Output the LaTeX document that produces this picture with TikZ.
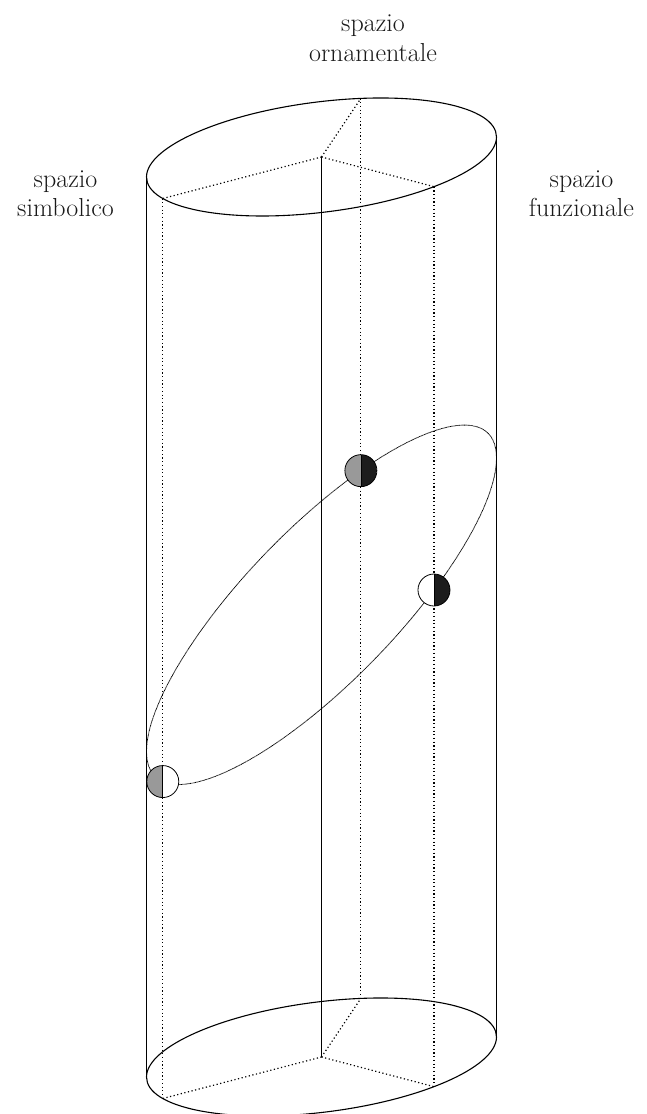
\documentclass[tikz,border=0pt]{standalone}
\begin{document}
\begin{tikzpicture}[x=1pt,y=1pt,
  rim/.style={line width=1.1pt},
  hid/.style={line width=1.2pt, dash pattern=on 1.2pt off 2.5pt},
  cut/.style={line width=0.8pt, dash pattern=on 0.8pt off 0.5pt},
  lab/.style={font=\fontsize{26}{29}\selectfont, anchor=base, inner sep=0pt, text=black!90},
  ball/.style 2 args={circle, draw, line width=0.8pt, minimum size=32pt, inner sep=0pt,
    path picture={
      \fill[#1] (path picture bounding box.north west) rectangle (path picture bounding box.south);
      \fill[#2] (path picture bounding box.north) rectangle (path picture bounding box.south east);
      \draw[line width=0.7pt] (path picture bounding box.north) -- (path picture bounding box.south);
    }}]
\definecolor{ballgray}{HTML}{999999}
\definecolor{balldark}{HTML}{1C1C1C}
\useasboundingbox (0,0) rectangle (646,1114);

% top ellipse
\begin{scope}[shift={(321.5,957)}, x={(175pt,20pt)}, y={(0pt,55.5pt)}]
  \coordinate (TO) at (0,0);
  \coordinate (TL) at (-1,0);
  \coordinate (TR) at (1,0);
  \coordinate (TA) at ({cos(77)},{sin(77)});
  \coordinate (TB) at ({cos(204.9)},{sin(204.9)});
  \coordinate (TC) at ({cos(310)},{sin(310)});
  \draw[rim] (0,0) circle (1);
\end{scope}

% bottom ellipse
\begin{scope}[shift={(321.5,57)}, x={(175pt,20pt)}, y={(0pt,55.5pt)}]
  \coordinate (BO) at (0,0);
  \coordinate (BL) at (-1,0);
  \coordinate (BR) at (1,0);
  \coordinate (BA) at ({cos(77)},{sin(77)});
  \coordinate (BB) at ({cos(204.9)},{sin(204.9)});
  \coordinate (BC) at ({cos(310)},{sin(310)});
  \draw[rim] (0,0) circle (1);
\end{scope}

% cylinder sides and axis
\draw[rim] (TL) -- (BL);
\draw[rim] (TR) -- (BR);
\draw[rim] (TO) -- (BO);

% dotted structure
\draw[hid] (TO) -- (TA);
\draw[hid] (TO) -- (TB);
\draw[hid] (TO) -- (TC);
\draw[hid] (BO) -- (BA);
\draw[hid] (BO) -- (BB);
\draw[hid] (BO) -- (BC);
\draw[hid] (TA) -- (BA);
\draw[hid] (TB) -- (BB);
\draw[hid] (TC) -- (BC);

% tilted section
\begin{scope}[shift={(321.5,509.2)}, x={(175pt,146.7pt)}, y={(0pt,103.8pt)}]
  \coordinate (MA) at ({cos(77)},{sin(77)});
  \coordinate (MB) at ({cos(204.9)},{sin(204.9)});
  \coordinate (MC) at ({cos(310)},{sin(310)});
  \draw[cut] (0,0) circle (1);
\end{scope}

\node[ball={ballgray}{balldark}] (b1) at (MA) {};
\node[ball={white}{balldark}] (b2) at (MC) {};
\node[ball={ballgray}{white}] (b3) at (MB) {};

% labels
\node[lab] (o1) at (373,1082.3) {spazio};
\node[lab] (o2) at (373,1052.3) {ornamentale};
\node[lab] (s1) at (65.5,926) {spazio};
\node[lab] (s2) at (65.5,897) {simbolico};
\node[lab] (f1) at (581.5,926) {spazio};
\node[lab] (f2) at (581.5,897) {funzionale};
\end{tikzpicture}
\end{document}
